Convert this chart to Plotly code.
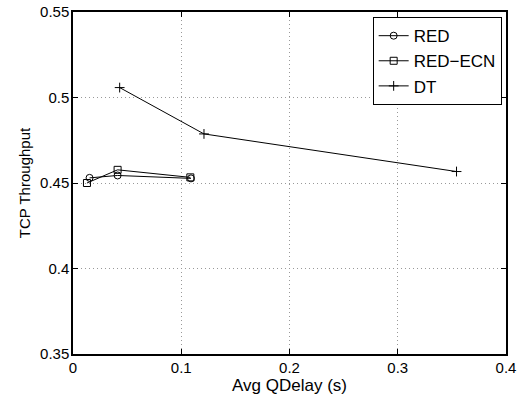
import plotly.graph_objects as go

red_x = [0.0153, 0.0412, 0.1090]
red_y = [0.4530, 0.4544, 0.4527]
ecn_x = [0.0129, 0.0412, 0.1084]
ecn_y = [0.4500, 0.4577, 0.4533]
dt_x = [0.0431, 0.1210, 0.3543]
dt_y = [0.5058, 0.4787, 0.4567]

x_ticks = [0, 0.1, 0.2, 0.3, 0.4]
x_labels = ["0", "0.1", "0.2", "0.3", "0.4"]
y_ticks = [0.35, 0.4, 0.45, 0.5, 0.55]
y_labels = ["0.35", "0.4", "0.45", "0.5", "0.55"]

font = "Liberation Sans, Arial, Helvetica, sans-serif"

fig = go.Figure()
fig.add_trace(go.Scatter(x=red_x, y=red_y, name="RED", mode="lines+markers",
                         line=dict(color="black", width=1),
                         marker=dict(symbol="circle-open", size=7, color="black", line=dict(width=1))))
fig.add_trace(go.Scatter(x=ecn_x, y=ecn_y, name="RED\u2212ECN", mode="lines+markers",
                         line=dict(color="black", width=1),
                         marker=dict(symbol="square-open", size=7, color="black", line=dict(width=1))))
fig.add_trace(go.Scatter(x=dt_x, y=dt_y, name="DT", mode="lines+markers",
                         line=dict(color="black", width=1),
                         marker=dict(symbol="cross-thin-open", size=7, color="black", line=dict(width=1, color="black"))))

axis_common = dict(showline=True, linecolor="black", linewidth=1.5, mirror="ticks",
                   ticks="inside", ticklen=5, tickcolor="black", tickwidth=1,
                   showgrid=True, gridcolor="#999999", griddash="1px,3px", gridwidth=1,
                   zeroline=False, automargin=False,
                   tickfont=dict(size=15, color="black", family=font))

fig.update_xaxes(range=[0, 0.4], tickvals=x_ticks, ticktext=x_labels,
                 title=dict(text="Avg QDelay (s)", standoff=0,
                            font=dict(size=17, color="black", family=font)),
                 ticklabelstandoff=-1, **axis_common)
fig.update_yaxes(range=[0.35, 0.55], tickvals=y_ticks, ticktext=y_labels,
                 title=dict(text="TCP Throughput", standoff=6,
                            font=dict(size=15, color="black", family=font)),
                 ticklabelstandoff=-1, **axis_common)

fig.update_layout(
    width=519, height=402,
    margin=dict(l=73, r=13, t=12, b=48),
    paper_bgcolor="white", plot_bgcolor="white",
    font=dict(family=font, size=15, color="black"),
    showlegend=True,
    legend=dict(x=0.99, y=0.985, xanchor="right", yanchor="top",
                bordercolor="black", borderwidth=1, bgcolor="white",
                font=dict(size=17, family=font, color="black"), tracegroupgap=0,
                itemwidth=30),
)

fig.write_html("out.html")
